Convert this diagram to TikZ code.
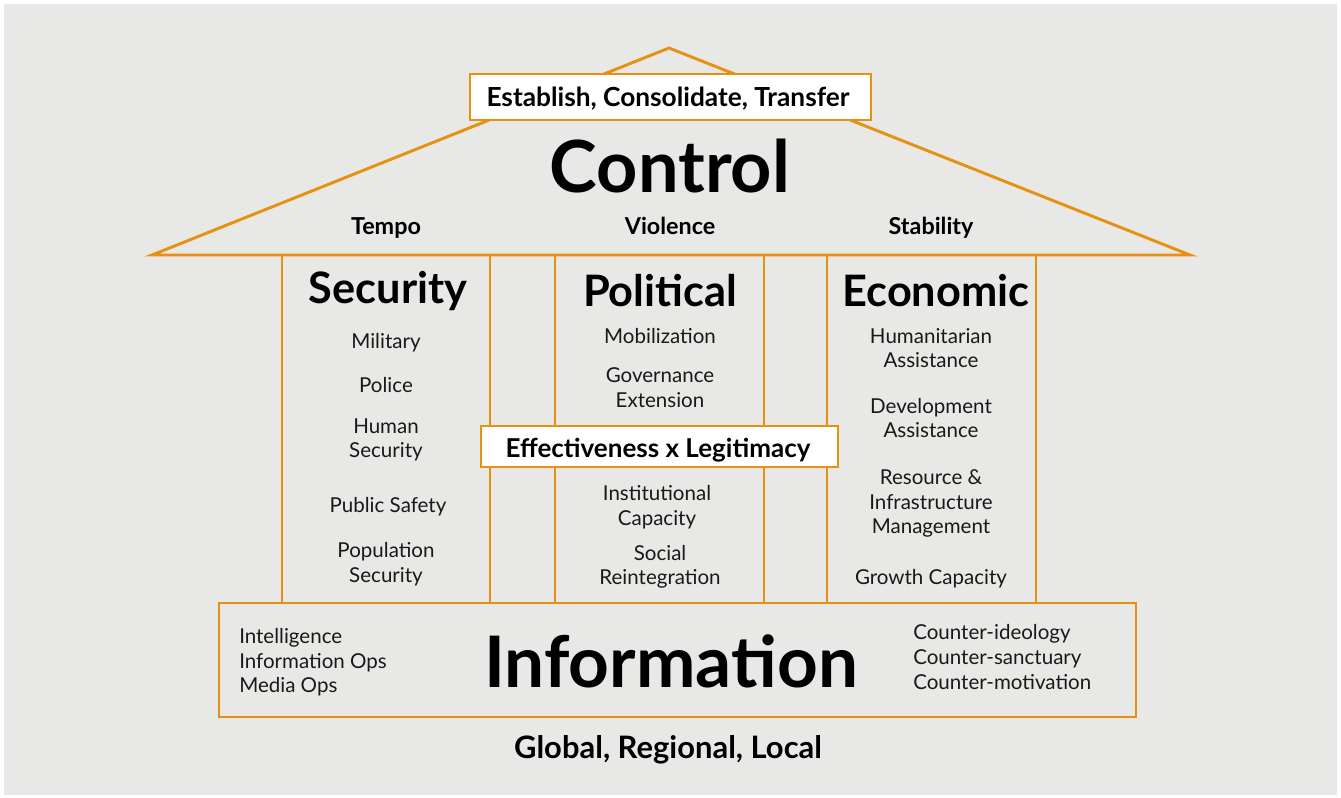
\documentclass[tikz,border=0pt]{standalone}
\usepackage{fontspec}
\setmainfont{Lato}
\definecolor{bg}{RGB}{232,232,230}
\definecolor{org}{RGB}{230,145,20}
\begin{document}
\begin{tikzpicture}[x=0.75pt,y=-0.75pt,
  frame/.style={draw=org,line width=2.2pt},
  wbox/.style={frame,fill=white,inner sep=0pt},
  item/.style={font=\fontsize{15.4}{18.4}\selectfont,align=center,text=black!90,inner sep=0pt},
  ttl/.style={font=\bfseries\fontsize{32.5}{36}\selectfont,inner sep=0pt},
  huge/.style={font=\bfseries\fontsize{54}{60}\selectfont,inner sep=0pt},
  sub/.style={font=\bfseries\fontsize{17.5}{20}\selectfont,inner sep=0pt,anchor=base},
  lst/.style={font=\fontsize{15.4}{18.4}\selectfont,align=left,text=black!90,inner sep=0pt,anchor=west}]
\useasboundingbox (0,0) rectangle (1341,798);
\fill[white] (0,0) rectangle (1341,798);
\fill[bg] (4,4) rectangle (1337,795);
% roof
\coordinate (apex) at (669,48);
\coordinate (rl) at (152,255);
\coordinate (rr) at (1190,255);
\draw[frame,line join=miter] (rl) -- (apex) -- (rr) -- cycle;
% pillars
\draw[frame] (282,255) rectangle (490,603);
\draw[frame] (555,255) rectangle (764,603);
\draw[frame] (827,255) rectangle (1036,603);
% information base
\draw[frame] (219,603) rectangle (1136,717);
% top box
\node[wbox,minimum width=401*0.75pt,minimum height=46*0.75pt] (top) at (670.5,97) {};
\node[font=\bfseries\fontsize{19.7}{22}\selectfont] (toptxt) at (668,99) {Establish, Consolidate, Transfer};
\node[huge] (control) at (670,166) {Control};
\node[sub] (tempo) at (386,235) {Tempo};
\node[sub] (violence) at (670,235) {Violence};
\node[sub] (stability) at (931,235) {Stability};
% pillar titles
\node[ttl] (security) at (388,291) {Security};
\node[ttl] (political) at (660,291) {Political};
\node[ttl] (economic) at (936,291) {Economic};
% security items
\node[item] (s1) at (386,343) {Military};
\node[item] (s2) at (386,385) {Police};
\node[item] (s3) at (386,440) {Human\\Security};
\node[item] (s4) at (388,507) {Public Safety};
\node[item] (s5) at (386,564) {Population\\Security};
% political items
\node[item] (p1) at (660,336) {Mobilization};
\node[item] (p2) at (660,387.5) {Governance\\Extension};
\node[item] (p3) at (657,507) {Institutional\\Capacity};
\node[item] (p4) at (660,567) {Social\\Reintegration};
% economic items
\node[item] (e1) at (931,348) {Humanitarian\\Assistance};
\node[item] (e2) at (931,418) {Development\\Assistance};
\node[item] (e3) at (931,503.5) {Resource \&\\Infrastructure\\Management};
\node[item] (e4) at (931,579) {Growth Capacity};
% effectiveness box
\node[wbox,minimum width=357*0.75pt,minimum height=41*0.75pt] (eff) at (659.5,446.5) {};
\node[font=\bfseries\fontsize{19.5}{22}\selectfont] (efftxt) at (658,450) {Effectiveness x Legitimacy};
% information
\node[huge,font=\bfseries\fontsize{53.3}{60}\selectfont] (info) at (671,661) {Information};
\node[lst] (left) at (239,662.5) {Intelligence\\Information Ops\\Media Ops};
\node[lst] (right) at (913,657) {Counter-ideology\\Counter-sanctuary\\Counter-motivation};
\node[font=\bfseries\fontsize{23.2}{26}\selectfont] (glob) at (668,750) {Global, Regional, Local};
\end{tikzpicture}
\end{document}
